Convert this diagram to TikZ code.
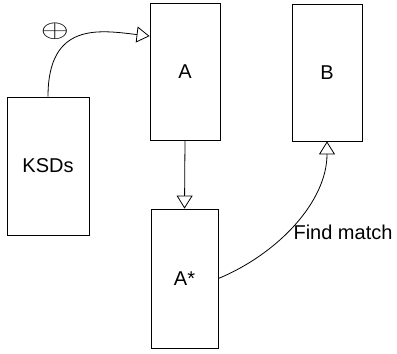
\documentclass[tikz,border=0pt]{standalone}
\usepackage{graphicx}
\usepackage{fontspec}
\setmainfont{Liberation Sans}
\usetikzlibrary{arrows.meta, positioning}
\tikzset{MatchChart/.style={
    x=1pt, y=-1pt,
    font=\fontsize{20}{24}\selectfont,
    base/.style = {draw, line width=0.8pt, align=center, inner sep=0pt},
    block/.style = {base, minimum width=70pt, minimum height=137pt},
    link/.style = {line width=0.8pt, arrows=-{Triangle[open, length=13pt, width=16pt]}}
}}

\begin{document}
\begin{tikzpicture}[MatchChart]
        \useasboundingbox (0,0) rectangle (397,354);
        \node [block, minimum width=82pt, minimum height=138pt] (ksd) at (48,166) {KSDs};
        \node [block] (a) at (185,71.5) {A};
        \node [block] (b) at (327,72.5) {B};
        \node [block, minimum width=67pt, minimum height=139pt] (astar) at (184.5,278.5) {A*};

        \node (plus) at (55,31) {\scalebox{1.45}[1]{\fontsize{29}{32}\selectfont$\oplus$}};
        \node (findmatch) at (343,232) {Find match};

        \draw [link] (ksd.north) .. controls +(0,-75) and +(-50,-6) .. (a.135);
        \draw [link] (a.south) -- (astar.north);
        \draw [link] (astar.east) .. controls +(60,-25) and +(0,60) .. (b.south);
    \end{tikzpicture}
\end{document}
